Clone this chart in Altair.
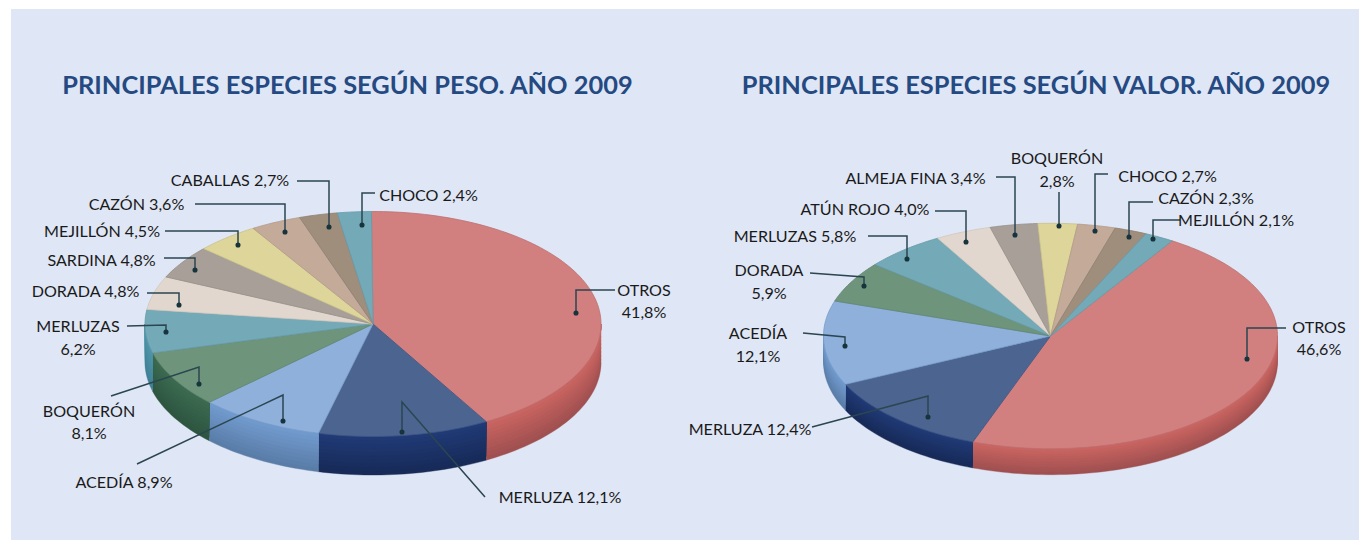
import math
import altair as alt
import pandas as pd

# ---- data ----
peso_names = ["OTROS", "MERLUZA", "ACEDÍA", "BOQUERÓN", "MERLUZAS", "DORADA", "SARDINA", "MEJILLÓN", "CAZÓN", "CABALLAS", "CHOCO"]
peso_values = [41.8, 12.1, 8.9, 8.1, 6.2, 4.8, 4.8, 4.5, 3.6, 2.7, 2.4]
valor_names = ["OTROS", "MERLUZA", "ACEDÍA", "DORADA", "MERLUZAS", "ATÚN ROJO", "ALMEJA FINA", "BOQUERÓN", "CHOCO", "CAZÓN", "MEJILLÓN"]
valor_values = [46.6, 12.4, 12.1, 5.9, 5.8, 4.0, 3.4, 2.8, 2.7, 2.3, 2.1]

top_colors = ["#D27F80", "#4C6490", "#8EB0DB", "#6E957B", "#74A9B7", "#E2D7CE",
              "#A89F98", "#DDD599", "#C4AA98", "#A08E7D", "#74A9B7"]
edge_colors = ["#BC7070", "#3F5684", "#7A9DCB", "#5F8570", "#669AA8", "#CFC6BD",
               "#979089", "#C9C28A", "#B29A8A", "#8F7F70", "#669AA8"]
wall_top = ["#C86461", "#203A75", "#7099CC", "#3B6A50", "#4E95A8", "#C9BBB0",
            "#8F857D", "#C2BA78", "#A98F7C", "#857362", "#4E95A8"]
wall_bot = ["#A05050", "#172A58", "#5A7DA8", "#2D5540", "#3F8096", "#A89C92",
            "#756C65", "#A39C63", "#8C7666", "#6B5C4F", "#3F8096"]

titles = [("PRINCIPALES ESPECIES SEGÚN PESO. AÑO 2009", 347.5, 86),
          ("PRINCIPALES ESPECIES SEGÚN VALOR. AÑO 2009", 1036, 86)]

# label lines: text, centre x, centre y
labels = [
    ("CABALLAS 2,7%", 230, 181), ("CAZÓN 3,6%", 136.5, 205), ("MEJILLÓN 4,5%", 102, 232),
    ("SARDINA 4,8%", 101.5, 261), ("DORADA 4,8%", 85.5, 292), ("MERLUZAS", 78, 327),
    ("6,2%", 78, 350), ("BOQUERÓN", 89, 412), ("8,1%", 89, 434), ("ACEDÍA 8,9%", 124, 483),
    ("MERLUZA 12,1%", 560, 498), ("CHOCO 2,4%", 428.5, 196), ("OTROS", 644, 291), ("41,8%", 644, 313),
    ("ALMEJA FINA 3,4%", 915.5, 179), ("ATÚN ROJO 4,0%", 865, 210), ("MERLUZAS 5,8%", 795, 237),
    ("DORADA", 769, 271), ("5,9%", 769, 294), ("ACEDÍA", 758, 334), ("12,1%", 758, 357),
    ("MERLUZA 12,4%", 750, 430), ("BOQUERÓN", 1057, 159), ("2,8%", 1057, 182),
    ("CHOCO 2,7%", 1167.5, 177), ("CAZÓN 2,3%", 1206, 199), ("MEJILLÓN 2,1%", 1236, 221),
    ("OTROS", 1319, 328), ("46,6%", 1319, 350),
]

# leader lines, ending at the dot
leaders = [
    [(297, 181), (329, 181), (329, 227)], [(195, 204), (285, 204), (285, 232)],
    [(165, 231), (238, 231), (238, 245)], [(164, 258), (195, 258), (195, 270)],
    [(147, 293), (179, 293), (179, 305)], [(127, 326), (166, 325), (166, 332)],
    [(111, 396), (199, 367), (199, 384)], [(137, 464), (283, 395), (283, 421)],
    [(485, 497), (402, 402), (402, 432)], [(375, 193), (362, 193), (362, 225)],
    [(615, 290), (576, 290), (576, 313)],
    [(996, 177), (1015, 177), (1015, 235)], [(935, 211), (966, 211), (966, 242)],
    [(868, 236), (907, 236), (907, 259)], [(810, 273), (864, 277), (864, 286)],
    [(803, 333), (845, 337), (845, 346)], [(812, 427), (928, 396), (928, 417)],
    [(1059, 192), (1059, 226)], [(1108, 174), (1095, 174), (1095, 231)],
    [(1153, 202), (1129, 202), (1129, 237)], [(1180, 220), (1153, 220), (1153, 239)],
    [(1286, 328), (1247, 328), (1247, 359)],
]

# pie layout: values, centre x, centre y, rx, ry, wall depth, start angle
pies = [(peso_values, 373.0, 324.0, 228, 112.5, 38.5, -0.4),
        (valor_values, 1050.5, 336.0, 227, 112.7, 26, 32.4)]
BANDS = 10


def mix(a, b, t):
    ca = [int(a[i:i + 2], 16) for i in (1, 3, 5)]
    cb = [int(b[i:i + 2], 16) for i in (1, 3, 5)]
    return "#" + "".join(f"{round(p + (q - p) * t):02x}" for p, q in zip(ca, cb))


def ell(cx, cy, rx, ry, deg, dy=0):
    r = math.radians(deg)
    return cx + rx * math.sin(r), cy - ry * math.cos(r) + dy


def arc(a, b):
    n = max(2, int((b - a) / 1.5) + 1)
    return [a + (b - a) * k / n for k in range(n + 1)]


tops, walls = [], []
for p, (vals, cx, cy, rx, ry, depth, start) in enumerate(pies):
    total = sum(vals)
    ang = start
    for s, v in enumerate(vals):
        end = ang + v / total * 360
        pts = [(cx, cy)] + [ell(cx, cy, rx, ry, d) for d in arc(ang, end)] + [(cx, cy)]
        for i, (x, y) in enumerate(pts):
            tops.append(dict(x=x, y=y, i=i, poly=f"t{p}-{s}", fill=top_colors[s], stroke=edge_colors[s]))
        a, b = max(ang, 90), min(end, 270)
        if b > a:
            ds = arc(a, b)
            for band in range(BANDS, 0, -1):
                t = band / BANDS
                col = mix(wall_top[s], wall_bot[s], (band - 1) / (BANDS - 1))
                poly = [ell(cx, cy, rx, ry, d) for d in ds] + \
                       [ell(cx, cy, rx, ry, d, depth * t) for d in reversed(ds)]
                for i, (x, y) in enumerate(poly):
                    walls.append(dict(x=x, y=y, i=i, poly=f"w{p}-{s}-{BANDS - band:02d}", fill=col, stroke=col))
        ang = end

label_df = pd.DataFrame(labels, columns=["t", "x", "y"])
title_df = pd.DataFrame(titles, columns=["t", "x", "y"])
leader_df = pd.DataFrame([dict(x=x, y=y, i=i, k=k) for k, l in enumerate(leaders) for i, (x, y) in enumerate(l)])
dot_df = pd.DataFrame([dict(x=l[-1][0], y=l[-1][1]) for l in leaders])

W, H = 1351, 532
xs = alt.Scale(domain=[8, 8 + W], nice=False, zero=False)
ys = alt.Scale(domain=[8 + H, 8], nice=False, zero=False)
X = alt.X("x:Q", scale=xs, axis=None)
Y = alt.Y("y:Q", scale=ys, axis=None)

panel = alt.Chart(pd.DataFrame([dict(x=11, x2=8 + W, y=9, y2=8 + H)])).mark_rect(color="#DFE6F5").encode(
    X, Y, x2="x2:Q", y2="y2:Q")


def polys(rows, width):
    return alt.Chart(pd.DataFrame(rows)).mark_line(strokeWidth=width, strokeJoin="round", interpolate="linear").encode(
        X, Y,
        order=alt.Order("i:Q"),
        detail="poly:N",
        fill=alt.Fill("fill:N", scale=None),
        stroke=alt.Stroke("stroke:N", scale=None),
    )


leader_layer = alt.Chart(leader_df).mark_line(color="#2B4650", strokeWidth=1.5).encode(
    X, Y, order=alt.Order("i:Q"), detail="k:N")
dots = alt.Chart(dot_df).mark_point(filled=True, color="#17343D", size=26, opacity=1).encode(X, Y)
text = alt.Chart(label_df).mark_text(font="Lato", fontSize=16.1, color="#1A1A1A", align="center", baseline="middle").encode(
    X, Y, text="t:N")
title = alt.Chart(title_df).mark_text(font="Lato", fontSize=25.4, fontWeight="bold", color="#254A82", align="center",
                                      baseline="middle").encode(X, Y, text="t:N")

chart = alt.layer(panel, polys(walls, 0.4), polys(tops, 0.8), leader_layer, dots, text, title).properties(
    width=W, height=H, padding=0, autosize=alt.AutoSizeParams(type="none")
).configure_view(stroke=None)

chart.save("out.html", embed_options={"renderer": "svg", "actions": False})
